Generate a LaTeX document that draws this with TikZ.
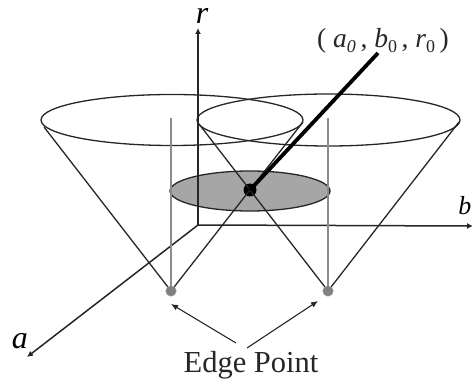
\documentclass[tikz,border=0pt]{standalone}
\usepackage{fontspec}
\setmainfont{Liberation Serif}
\usetikzlibrary{arrows.meta}
\tikzset{
 axis/.style={draw=black!85,line width=1.5pt,-{Latex[length=6pt,width=6pt]}},
 rim/.style={draw=black!85,line width=1.3pt},
 gen/.style={draw=black!85,line width=1.3pt},
 guide/.style={draw=black!45,line width=1.2pt},
 lab/.style={inner sep=0pt,font=\itshape\fontsize{32}{32}\selectfont},
 point/.style={circle,fill=black!50,draw=black!40,line width=.4pt,minimum size=10.5pt,inner sep=0pt},
 pointer/.style={draw=black!85,line width=1.1pt,-{Latex[length=7pt,width=6pt]}},
}
\begin{document}
\begin{tikzpicture}[x=1pt,y=-1pt]
\useasboundingbox (0,0) rectangle (472,382);
\clip (0,0) rectangle (472,382);
% reference coordinates
\coordinate (O) at (198,225);
\coordinate (rEnd) at (198,28);
\coordinate (bEnd) at (473,226);
\coordinate (aEnd) at (27,357);
\coordinate (apex) at (378,53);
\coordinate (L1) at (44,127);
\coordinate (R1) at (459,122);
\coordinate (S1) at (199,124);
\coordinate (S2) at (303,122);
\coordinate (GLt) at (171,118);
\coordinate (GRt) at (328,118);
% grey disc
\fill[black!35,draw=black!85,line width=1.3pt] (250,191) ellipse [x radius=80,y radius=20];
% axes
\draw[axis] (O) -- (rEnd);
\draw[axis] (O) -- (bEnd);
\draw[axis] (O) -- (aEnd);
% cone rims
\draw[rim] (172,120) ellipse [x radius=131,y radius=25.5];
\draw[rim] (328.5,120) ellipse [x radius=131.5,y radius=26];
% points
\node[point] (P1) at (171,291) {};
\node[point] (P2) at (328,291) {};
\node[circle,fill=black,minimum size=13pt,inner sep=0pt] (C) at (250,190) {};
% guide lines
\draw[guide] (GLt) -- (P1);
\draw[guide] (GRt) -- (P2);
% cone sides
\draw[gen] (L1) -- (P1);
\draw[gen] (S2) -- (P1);
\draw[gen] (R1) -- (P2);
\draw[gen] (S1) -- (P2);
% thick radius
\draw[line width=3.8pt,black] (C.center) -- (apex);
% labels
\node[lab] (lr) at (202,16) {r};
\node[lab,font=\itshape\fontsize{26}{26}\selectfont,anchor=east] (lb) at (471.5,206) {b};
\node[lab] (la) at (20,341) {a};
\node[inner sep=0pt,font=\fontsize{27.5}{27.5}\selectfont,text=black!85] (lt) at (383,41) {( \textit{a}\raisebox{-5pt}{\textit{\fontsize{18}{18}\selectfont 0}}\,, \textit{b}\raisebox{-5pt}{\fontsize{18}{18}\selectfont 0}\,, \textit{r}\raisebox{-5pt}{\fontsize{18}{18}\selectfont 0}\,)};
\node[inner sep=0pt,font=\fontsize{30.5}{30.5}\selectfont,text=black!85] (ep) at (251,365) {Edge Point};
\coordinate (EPa) at (236,343);
\coordinate (EPb) at (247,348);
\coordinate (T1) at (171,304);
\coordinate (T2) at (318,301);
\draw[pointer] (EPa) -- (T1);
\draw[pointer] (EPb) -- (T2);
\end{tikzpicture}
\end{document}
